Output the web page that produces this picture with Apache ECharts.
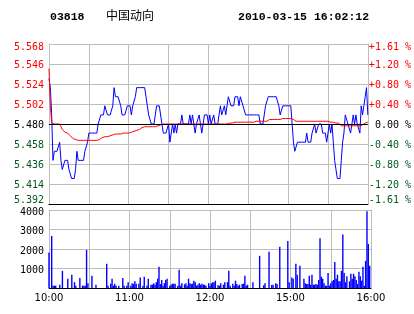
<!DOCTYPE html>
<html>
<head>
<meta charset="utf-8">
<script src="https://cdn.jsdelivr.net/npm/echarts@6/dist/echarts.min.js"></script>
<style>
html,body{margin:0;padding:0;background:#fff;}
#c{width:414px;height:314px;}
</style>
</head>
<body>
<div id="c"></div>
<script>
var stockCode = '03818';
var stockName = '中国动向';
var stampText = '2010-03-15 16:02:12';
var prevClose = 5.48;

var priceTickLabels = ['5.392','5.414','5.436','5.458','5.480','5.502','5.524','5.546','5.568'];
var pctTickLabels = ['-1.61 %','-1.20 %','-0.80 %','-0.40 %',' 0.00 %','+0.40 %','+0.80 %','+1.20 %','+1.61 %'];
var volTickLabels = ['', '1000', '2000', '3000', '4000'];
var timeTickMinutes = [0, 60, 120, 180, 240];
var timeTickLabels = ['10:00', '11:00', '12:00', '15:00', '16:00'];

var price = [
5.53,5.52,5.49,5.44,5.45,5.45,5.45,5.45,5.46,5.44,
5.43,5.43,5.44,5.44,5.44,5.43,5.43,5.42,5.42,5.42,
5.43,5.45,5.44,5.44,5.44,5.44,5.44,5.45,5.45,5.46,
5.47,5.47,5.47,5.47,5.47,5.47,5.47,5.48,5.48,5.49,
5.49,5.49,5.50,5.50,5.49,5.49,5.49,5.49,5.50,5.52,
5.51,5.51,5.51,5.51,5.50,5.49,5.49,5.49,5.49,5.50,
5.50,5.50,5.49,5.50,5.50,5.51,5.52,5.52,5.52,5.52,
5.52,5.52,5.52,5.51,5.50,5.49,5.49,5.48,5.48,5.48,
5.49,5.50,5.50,5.50,5.50,5.48,5.47,5.47,5.47,5.47,
5.48,5.46,5.47,5.48,5.47,5.48,5.47,5.48,5.48,5.48,
5.49,5.48,5.48,5.48,5.48,5.48,5.49,5.48,5.49,5.48,
5.47,5.48,5.48,5.49,5.48,5.47,5.48,5.49,5.49,5.49,
5.48,5.49,5.48,5.48,5.49,5.48,5.48,5.48,5.49,5.50,
5.49,5.49,5.50,5.49,5.49,5.51,5.51,5.50,5.50,5.50,
5.51,5.51,5.51,5.50,5.51,5.51,5.50,5.50,5.49,5.49,
5.49,5.49,5.49,5.49,5.49,5.49,5.49,5.49,5.49,5.48,
5.48,5.48,5.49,5.50,5.50,5.51,5.51,5.51,5.51,5.51,
5.51,5.51,5.51,5.50,5.49,5.49,5.50,5.50,5.50,5.50,
5.50,5.50,5.50,5.48,5.46,5.45,5.45,5.46,5.46,5.46,
5.46,5.46,5.46,5.46,5.47,5.46,5.46,5.46,5.47,5.47,
5.48,5.47,5.47,5.48,5.48,5.48,5.47,5.47,5.47,5.46,
5.47,5.48,5.47,5.48,5.46,5.44,5.43,5.42,5.42,5.42,
5.44,5.46,5.47,5.49,5.49,5.48,5.48,5.47,5.48,5.49,
5.48,5.49,5.48,5.48,5.47,5.50,5.49,5.50,5.51,5.52,
5.49
];

var avgPrice = [
5.541,5.500,5.482,5.480,5.480,5.480,5.480,5.480,5.480,5.477,
5.474,5.472,5.471,5.471,5.470,5.469,5.467,5.465,5.464,5.463,
5.463,5.462,5.462,5.462,5.462,5.462,5.462,5.462,5.462,5.462,
5.462,5.462,5.462,5.462,5.462,5.462,5.462,5.462,5.463,5.464,
5.465,5.465,5.466,5.466,5.466,5.467,5.467,5.468,5.468,5.468,
5.469,5.469,5.469,5.469,5.469,5.469,5.470,5.470,5.470,5.470,
5.470,5.470,5.471,5.471,5.472,5.472,5.473,5.474,5.474,5.475,
5.476,5.476,5.477,5.477,5.477,5.477,5.477,5.477,5.477,5.477,
5.477,5.478,5.478,5.479,5.479,5.479,5.480,5.480,5.480,5.480,
5.480,5.480,5.480,5.480,5.480,5.480,5.480,5.480,5.480,5.480,
5.480,5.480,5.480,5.480,5.480,5.480,5.480,5.480,5.480,5.480,
5.480,5.480,5.480,5.480,5.480,5.480,5.480,5.480,5.480,5.480,
5.480,5.480,5.480,5.480,5.480,5.480,5.480,5.480,5.480,5.480,
5.480,5.480,5.480,5.480,5.480,5.480,5.481,5.481,5.481,5.481,
5.482,5.482,5.482,5.482,5.482,5.482,5.482,5.482,5.482,5.482,
5.482,5.482,5.482,5.482,5.482,5.483,5.483,5.483,5.483,5.483,
5.483,5.483,5.483,5.483,5.483,5.485,5.485,5.485,5.485,5.485,
5.485,5.485,5.485,5.485,5.485,5.485,5.486,5.486,5.486,5.486,
5.486,5.486,5.486,5.486,5.485,5.483,5.483,5.483,5.483,5.483,
5.483,5.483,5.483,5.483,5.483,5.483,5.483,5.483,5.483,5.483,
5.483,5.483,5.483,5.483,5.483,5.483,5.483,5.483,5.483,5.483,
5.483,5.483,5.482,5.482,5.482,5.482,5.481,5.481,5.481,5.480,
5.478,5.478,5.478,5.478,5.478,5.478,5.478,5.478,5.478,5.478,
5.478,5.478,5.478,5.478,5.478,5.478,5.479,5.480,5.481,5.481,
5.482
];

var volume = [
1820,0,2670,120,120,120,0,0,170,0,
880,0,0,0,480,0,0,680,0,300,
120,0,0,510,0,120,120,120,1955,250,
0,0,630,0,0,170,0,0,0,0,
0,0,0,1240,120,0,220,480,120,220,
120,0,120,0,0,510,120,0,120,300,
0,120,250,200,340,220,0,220,540,0,
120,580,0,120,480,0,170,170,240,170,
300,480,1090,200,410,120,250,410,480,0,
120,170,220,220,220,0,120,935,120,250,
0,190,240,120,480,250,200,220,375,300,
120,170,240,170,220,170,170,120,0,250,
120,240,290,290,375,0,140,120,250,0,
170,300,0,300,880,120,0,220,120,375,
200,120,170,0,200,220,630,120,170,0,
0,0,300,0,0,0,0,1650,0,0,
140,250,0,0,1855,0,150,170,0,250,
200,0,2110,0,0,0,0,0,2415,290,
0,540,480,0,1240,680,0,1140,0,0,
480,250,200,200,630,170,680,170,170,200,
170,410,2550,580,480,240,120,120,765,120,
250,340,410,1330,480,680,340,340,880,2750,
765,300,600,0,340,730,480,730,600,410,
200,830,600,375,1090,120,1390,3940,2260,1140,
0
];

var RED = '#ff0000', GREEN = '#005a1e', GRIDC = '#bdbdbd';
var MONO = 'DejaVu Sans Mono';

function pairs(arr) {
  var out = [];
  for (var i = 0; i < arr.length; i++) out.push([i, arr[i]]);
  return out;
}
function colorKey(txt) {
  var v = parseFloat(txt);
  var d = Math.round((v - prevClose) * 1000);
  if (txt.indexOf('%') >= 0) d = Math.round(parseFloat(txt.replace(/\s/g, '')) * 100);
  return d > 0 ? 'r' : (d < 0 ? 'g' : 'k');
}
function richSet(extra) {
  var base = {fontFamily: MONO, fontSize: 10};
  var cols = {r: RED, g: GREEN, k: '#000'};
  var pads = {t: [7, 0, 0, 0], b: [0, 0, 7, 0], m: [2, 0, 0, 0]};
  var out = {};
  for (var c in cols) for (var p in pads) {
    out[c + p] = Object.assign({}, base, {color: cols[c], padding: pads[p]});
  }
  return out;
}
function fmtPriceLike(list) {
  return function (v, i) {
    var t = list[i];
    var pos = i === 0 ? 'b' : (i === list.length - 1 ? 't' : 'm');
    return '{' + colorKey(t) + pos + '|' + t + '}';
  };
}

var chart = echarts.init(document.getElementById('c'), null, {renderer: 'canvas'});
chart.setOption({
  animation: false,
  backgroundColor: '#fff',
  title: [
    {text: stockCode, left: 50, top: 11, padding: 0,
     textStyle: {fontFamily: 'Liberation Mono', fontWeight: 'bold', fontSize: 11.5, color: '#000'}},
    {text: stockName, left: 106, top: 9.5, padding: 0,
     textStyle: {fontFamily: 'Noto Sans CJK SC', fontWeight: 'normal', fontSize: 12, color: '#000'}},
    {text: stampText, left: 238, top: 11, padding: 0,
     textStyle: {fontFamily: 'Liberation Mono', fontWeight: 'bold', fontSize: 11.5, color: '#000'}}
  ],
  grid: [
    {left: 49, right: 43, top: 44, height: 160},
    {left: 49, right: 43, top: 210, height: 78}
  ],
  xAxis: [
    {type: 'value', gridIndex: 0, min: 0, max: 240, interval: 30,
     axisLine: {show: true, onZero: false, lineStyle: {color: '#000', width: 1}},
     axisTick: {show: false}, axisLabel: {show: false},
     splitLine: {show: true, lineStyle: {color: GRIDC, width: 1}}},
    {type: 'value', gridIndex: 1, min: 0, max: 240, interval: 30,
     axisLine: {show: true, onZero: false, lineStyle: {color: '#000', width: 1}},
     axisTick: {show: false},
     axisLabel: {show: true, margin: 5, fontFamily: 'DejaVu Sans', fontSize: 10, color: '#000',
       formatter: function (v) { var k = timeTickMinutes.indexOf(v); return k >= 0 ? timeTickLabels[k] : ''; }},
     splitLine: {show: true, lineStyle: {color: GRIDC, width: 1}}}
  ],
  yAxis: [
    {type: 'value', gridIndex: 0, position: 'left', min: 5.392, max: 5.568, interval: 0.022,
     axisLine: {show: true, lineStyle: {color: GRIDC}}, axisTick: {show: false},
     axisLabel: {margin: 5, fontFamily: MONO, fontSize: 10,
       formatter: fmtPriceLike(priceTickLabels), rich: richSet()},
     splitLine: {show: true, lineStyle: {color: GRIDC, width: 1}}},
    {type: 'value', gridIndex: 0, position: 'right', min: 5.392, max: 5.568, interval: 0.022,
     axisLine: {show: true, lineStyle: {color: GRIDC}}, axisTick: {show: false},
     axisLabel: {margin: 1, fontFamily: MONO, fontSize: 10,
       formatter: fmtPriceLike(pctTickLabels), rich: richSet()},
     splitLine: {show: false}},
    {type: 'value', gridIndex: 1, position: 'left', min: 0, max: 4000, interval: 1000,
     axisLine: {show: true, lineStyle: {color: GRIDC}}, axisTick: {show: false},
     axisLabel: {margin: 5, fontFamily: MONO, fontSize: 10, color: '#000',
       formatter: function (v, i) { return volTickLabels[i] ? '{v|' + volTickLabels[i] + '}' : ''; },
       rich: {v: {fontFamily: MONO, fontSize: 10, color: '#000', padding: [4, 0, 0, 0]}}},
     splitLine: {show: true, lineStyle: {color: GRIDC, width: 1}}},
    {type: 'value', gridIndex: 1, position: 'right', min: 0, max: 4000, interval: 1000,
     axisLine: {show: true, lineStyle: {color: GRIDC}}, axisTick: {show: false},
     axisLabel: {show: false}, splitLine: {show: false}}
  ],
  series: [
    {type: 'line', xAxisIndex: 0, yAxisIndex: 0, data: pairs(price), showSymbol: false, symbol: 'none',
     lineStyle: {color: '#0000ff', width: 1}, itemStyle: {color: '#0000ff'}, z: 3,
     markLine: {silent: true, symbol: ['none', 'none'], label: {show: false},
       lineStyle: {color: '#000', width: 1, type: 'solid'}, data: [{yAxis: prevClose}]}},
    {type: 'line', xAxisIndex: 0, yAxisIndex: 0, data: pairs(avgPrice), showSymbol: false, symbol: 'none',
     lineStyle: {color: '#ff0000', width: 1}, itemStyle: {color: '#ff0000'}, z: 4},
    {type: 'bar', xAxisIndex: 1, yAxisIndex: 2, data: pairs(volume), barWidth: 1.4,
     itemStyle: {color: '#0000ff'}}
  ]
});
</script>
</body>
</html>
